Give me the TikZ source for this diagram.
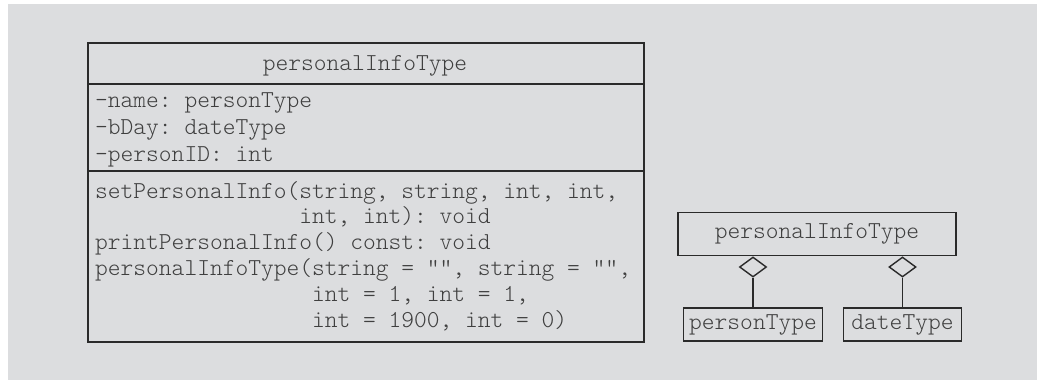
\documentclass[tikz,border=0pt]{standalone}
\usepackage{fontspec}
\setmonofont{Latin Modern Mono Light}
\usetikzlibrary{positioning,shapes.geometric}

\definecolor{panel}{HTML}{DCDDDF}
\definecolor{ink}{HTML}{2A2A2A}

\tikzset{
  umlfont/.style={font=\ttfamily\fontsize{24.3}{26}\selectfont, text=ink!90},
  classbox/.style={draw=ink, line width=1.8pt, inner sep=0pt},
  member/.style={umlfont, anchor=base west, inner sep=0pt},
  typebox/.style={draw=ink, line width=1.6pt, umlfont, inner sep=0pt},
  aggmark/.style={diamond, draw=ink, line width=1.4pt, inner sep=0pt,
    minimum width=27pt, minimum height=20pt},
  partline/.style={draw=ink, line width=1.4pt}
}

\begin{document}
\begin{tikzpicture}[x=1pt, y=-1pt]
    % Background panel
    \fill[white] (0,0) rectangle (1037,380);
    \fill[panel] (8,4) rectangle (1037,380);

    % Class box with three compartments
    \node[classbox, anchor=north west, minimum width=556pt, minimum height=299pt] (info) at (87,42) {};
    \draw[classbox] ([yshift=-42pt]info.north west) -- ([yshift=-42pt]info.north east);
    \draw[classbox] ([yshift=-129pt]info.north west) -- ([yshift=-129pt]info.north east);
    \node[umlfont, anchor=base, inner sep=0pt] (infoname) at (365,70) {personalInfoType};

    % Member variables
    \foreach \txt [count=\i] in {{-name: personType},{-bDay: dateType},{-personID: int}}
        \node[member] (attr\i) at (95,80+27*\i) {\txt};

    % Member functions
    \foreach \txt [count=\i] in {
        {setPersonalInfo(string, string, int, int,},
        {\phantom{setPersonalInfo(}int, int): void},
        {printPersonalInfo() const: void},
        {personalInfoType(string = "", string = "",},
        {\phantom{personalInfoType(}int = 1, int = 1,},
        {\phantom{personalInfoType(}int = 1900, int = 0)}}
        \node[member] (func\i) at (95,172.2+25.8*\i) {\txt};

    % Composition diagram
    \node[typebox, minimum width=278pt, minimum height=43pt] (whole) at (817,234) {personalInfoType};
    \node[typebox, minimum width=139pt, minimum height=33pt] (person) at (753,324.5) {personType};
    \node[typebox, minimum width=118pt, minimum height=33pt] (date) at (902.5,324.5) {dateType};

    \node[aggmark, anchor=north] (aggperson) at (person |- whole.south) {};
    \node[aggmark, anchor=north] (aggdate) at (date |- whole.south) {};

    \draw[partline] (aggperson.south) -- (person.north);
    \draw[partline] (aggdate.south) -- (date.north);
\end{tikzpicture}
\end{document}
